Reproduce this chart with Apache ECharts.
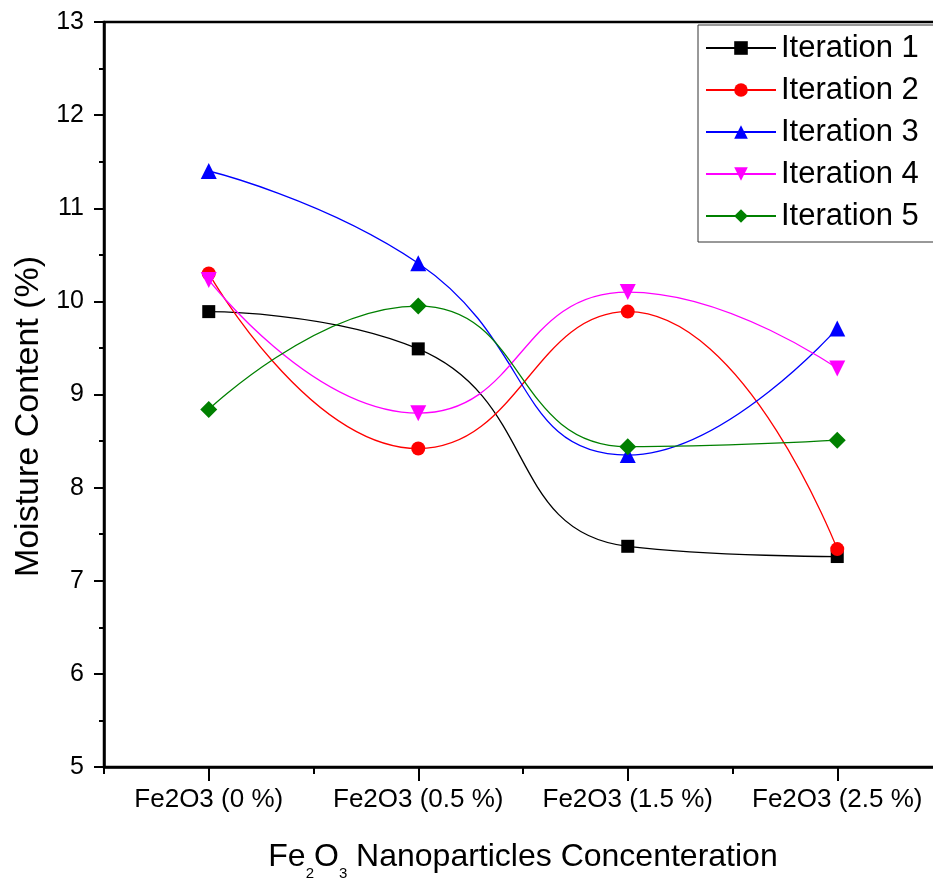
<!DOCTYPE html>
<html>
<head>
<meta charset="utf-8">
<script src="https://cdn.jsdelivr.net/npm/echarts@6/dist/echarts.min.js"></script>
<style>
  html, body { margin: 0; padding: 0; background: #fff; }
  #chart { width: 933px; height: 881px; }
</style>
</head>
<body>
<div id="chart"></div>
<script>
// Moisture content for each Fe2O3 loading, five repeated iterations
const categories = ['Fe2O3 (0 %)', 'Fe2O3 (0.5 %)', 'Fe2O3 (1.5 %)', 'Fe2O3 (2.5 %)'];
const iteration1 = [9.89, 9.49, 7.37, 7.26];
const iteration2 = [10.30, 8.42, 9.89, 7.34];
const iteration3 = [11.40, 10.41, 8.35, 9.71];
const iteration4 = [10.23, 8.80, 10.10, 9.28];
const iteration5 = [8.84, 9.95, 8.44, 8.51];
const seriesNames = ['Iteration 1', 'Iteration 2', 'Iteration 3', 'Iteration 4', 'Iteration 5'];

const FONT = '"Liberation Sans", Arial, sans-serif';

const styles = [
  { color: '#000000', symbol: 'rect', size: 13, rotate: 0 },
  { color: '#ff0000', symbol: 'circle', size: 14, rotate: 0 },
  { color: '#0000ff', symbol: 'triangle', size: 16, rotate: 0 },
  { color: '#ff00ff', symbol: 'triangle', size: 16, rotate: 180 },
  { color: '#008000', symbol: 'diamond', size: 17, rotate: 0 }
];
const values = [iteration1, iteration2, iteration3, iteration4, iteration5];

const chart = echarts.init(document.getElementById('chart'), null, { renderer: 'canvas' });

chart.setOption({
  animation: false,
  backgroundColor: '#ffffff',
  textStyle: { fontFamily: FONT, color: '#000' },
  grid: {
    // plot box runs past the right edge of the canvas
    left: 104, top: 22, width: 838, bottom: 114,
    outerBoundsMode: 'none',
    containLabel: false,
    show: true, borderColor: '#000', borderWidth: 2.5, backgroundColor: 'transparent'
  },
  legend: {
    orient: 'vertical',
    left: 698, top: 25,
    padding: [2, 40, 5, 7],
    itemGap: 0,
    itemWidth: 70,
    itemHeight: 17,
    borderColor: '#333',
    borderWidth: 1,
    backgroundColor: '#fff',
    data: seriesNames,
    textStyle: { fontFamily: FONT, fontSize: 31, color: '#000', lineHeight: 42 }
  },
  xAxis: [
    {
      type: 'category',
      data: categories,
      boundaryGap: true,
      axisLine: { show: true, lineStyle: { color: '#000', width: 2.5 } },
      axisTick: { show: true, alignWithLabel: true, length: 14, lineStyle: { color: '#000', width: 2 } },
      axisLabel: { interval: 0, fontFamily: FONT, fontSize: 26, color: '#000', margin: 20 },
      splitLine: { show: false },
      name: 'Fe{sub|2}O{sub|3} Nanoparticles Concenteration',
      nameLocation: 'middle',
      nameGap: 66,
      nameTextStyle: {
        fontFamily: FONT, fontSize: 32, color: '#000', lineHeight: 48,
        rich: {
          sub: { fontFamily: FONT, fontSize: 15, color: '#000', lineHeight: 48, verticalAlign: 'bottom' }
        }
      }
    },
    {
      // short ticks on the band boundaries
      type: 'value',
      position: 'bottom',
      min: 0, max: 4, interval: 1,
      axisLine: { show: false },
      axisTick: { show: true, length: 7, lineStyle: { color: '#000', width: 2 } },
      axisLabel: { show: false },
      splitLine: { show: false }
    }
  ],
  yAxis: {
    type: 'value',
    min: 5, max: 13, interval: 1,
    axisLine: { show: true, lineStyle: { color: '#000', width: 2.5 } },
    axisTick: { show: true, length: 10, lineStyle: { color: '#000', width: 2 } },
    minorTick: { show: true, splitNumber: 2, length: 5, lineStyle: { color: '#000', width: 2 } },
    axisLabel: { fontFamily: FONT, fontSize: 25, color: '#000', margin: 20 },
    splitLine: { show: false },
    name: 'Moisture Content (%)',
    nameLocation: 'middle',
    nameGap: 56,
    nameTextStyle: { fontFamily: FONT, fontSize: 34, color: '#000', padding: [0, 44, 0, 0] }
  },
  series: values.map((v, i) => ({
    name: seriesNames[i],
    type: 'line',
    xAxisIndex: 0,
    data: v,
    smooth: 0.5,
    symbol: styles[i].symbol,
    symbolSize: styles[i].size,
    symbolRotate: styles[i].rotate,
    showAllSymbol: true,
    lineStyle: { color: styles[i].color, width: 1.3 },
    itemStyle: { color: styles[i].color },
    emphasis: { disabled: true }
  }))
});
</script>
</body>
</html>
